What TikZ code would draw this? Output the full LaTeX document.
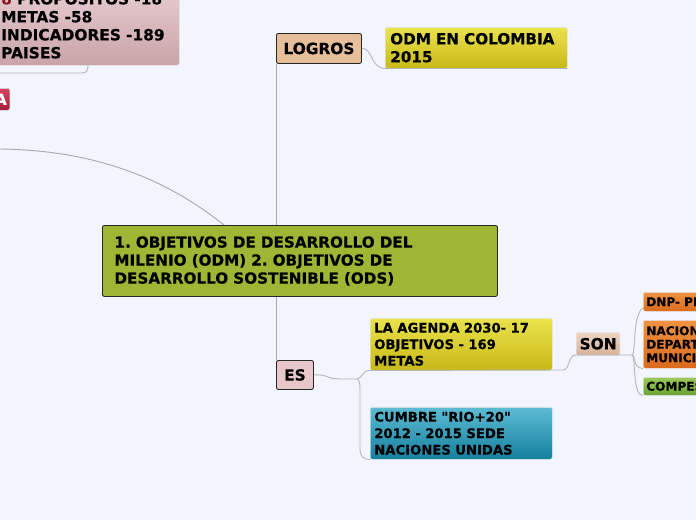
\documentclass[tikz,border=0pt]{standalone}
\usepackage{fontspec}
\setmainfont{DejaVu Sans}[Ligatures=TeXOff, BoldFeatures={FakeBold=0.4}]
\frenchspacing
\definecolor{bgc}{HTML}{F2F5FD}
\definecolor{lnc}{HTML}{B4B6BE}
\definecolor{lnd}{HTML}{A8A8AC}
\definecolor{mainc}{HTML}{9DB634}
\definecolor{logc}{HTML}{E6BE9A}
\definecolor{esc}{HTML}{E8C7CB}
\definecolor{sont}{HTML}{EDD5C2}
\definecolor{sonb}{HTML}{D6B298}
\definecolor{yelt}{HTML}{EAE24C}
\definecolor{yelb}{HTML}{C8B918}
\definecolor{teat}{HTML}{5CBBD3}
\definecolor{teab}{HTML}{15809F}
\definecolor{orat}{HTML}{F29242}
\definecolor{orab}{HTML}{DA6A1C}
\definecolor{gret}{HTML}{9ACA5A}
\definecolor{greb}{HTML}{6AA232}
\definecolor{redt}{HTML}{D4445F}
\definecolor{redb}{HTML}{A61E3A}
\definecolor{pint}{HTML}{E8CDD1}
\definecolor{pinb}{HTML}{C9A3A8}
\definecolor{darkred}{HTML}{8A1C2A}
\tikzset{
  box/.style={anchor=north west, inner ysep=0pt, align=left, rounded corners=2pt},
  solidbox/.style={box, draw=black!85, line width=0.9pt},
  gbox/.style={box, draw=white!80!gray, line width=0.5pt},
  conn/.style={draw=lnc, line width=0.9pt},
  f14/.style={font={\fontsize{15.4}{18}\selectfont\bfseries\frenchspacing}},
  f13/.style={font={\fontsize{15.2}{18}\selectfont\bfseries\frenchspacing}},
  f11/.style={font={\fontsize{13.2}{16.5}\selectfont\bfseries\frenchspacing}},
  f10/.style={font={\fontsize{12.1}{13.5}\selectfont\bfseries\frenchspacing}},
}
\begin{document}
\begin{tikzpicture}[x=1pt,y=-1pt]
\useasboundingbox (0,0) rectangle (696,520);
\clip (0,0) rectangle (696,520);
\fill[bgc] (0,0) rectangle (696,520);

% nodes
\node[gbox, f14, top color=pint, bottom color=pinb, text width=167pt, inner xsep=11pt, minimum height=79pt] (tl) at (-10,-14)
  {{\color{darkred}8} PROPOSITOS -18\\METAS -58\\INDICADORES -189\\PAISES};
\node[gbox, f14, top color=redt, bottom color=redb, text=white, inner xsep=3pt, minimum height=22pt, anchor=north east] (red) at (10,88) {A};

\node[solidbox, f13, fill=mainc, text width=371pt, inner xsep=12pt, minimum height=71pt] (main) at (102,225)
  {1. OBJETIVOS DE DESARROLLO DEL\\MILENIO (ODM) 2. OBJETIVOS DE\\DESARROLLO SOSTENIBLE (ODS)};
\node[solidbox, f14, fill=logc, minimum width=85pt, minimum height=30pt, align=center] (logros) at (276,33) {LOGROS};
\node[gbox, f13, top color=yelt, bottom color=yelb, text width=172pt, inner xsep=5pt, minimum height=41pt] (odm) at (385,27)
  {ODM EN COLOMBIA\\2015};
\node[solidbox, f14, fill=esc, minimum width=37pt, minimum height=29pt, align=center] (es) at (276,360) {ES};
\node[gbox, f11, top color=yelt, bottom color=yelb, text width=174pt, inner xsep=4pt, minimum height=52pt] (agenda) at (370,318)
  {LA AGENDA 2030- 17\\OBJETIVOS - 169\\METAS};
\node[gbox, f11, top color=teat, bottom color=teab, text width=174pt, inner xsep=4pt, minimum height=52pt] (cumbre) at (370,407)
  {CUMBRE "RIO+20"\\2012 - 2015 SEDE\\NACIONES UNIDAS};
\node[gbox, f14, top color=sont, bottom color=sonb, minimum width=43pt, minimum height=23pt, align=center] (son) at (576,332) {SON};
\node[gbox, f10, top color=orat, bottom color=orab, text width=100pt, inner xsep=3pt, minimum height=19pt] (dnp) at (643,292) {DNP- PND};
\node[gbox, f10, top color=orat, bottom color=orab, text width=100pt, inner xsep=3pt, minimum height=48pt] (nac) at (643,320)
  {NACIONAL\\DEPARTAMENTAL\\MUNICIPAL};
\node[gbox, f10, top color=gret, bottom color=greb, text width=100pt, inner xsep=3pt, minimum height=18pt] (compes) at (643,377) {COMPES 91};

% connectors
\coordinate (tlL) at (-5,73);
\coordinate (tlc) at (88,65);
\coordinate (lc) at (-5,149);
\coordinate (esj) at (357,379);
\coordinate (sonj) at (632,355);
\draw[conn] (tlL) -- (82,73) .. controls (87,73) and (88,70) .. (tlc);
\draw[draw=lnd, line width=0.9pt] (lc) .. controls (110,149) and (180,190) .. ([xshift=122pt]main.north west);
\draw[draw=lnd, line width=0.9pt] ([xshift=0.5pt]logros.south west) -- ([xshift=0.5pt]logros.south west |- main.north);
\draw[draw=lnd, line width=0.9pt] ([xshift=0.5pt]es.north west |- main.south) -- ([xshift=0.5pt]es.north west);
\draw[conn] (logros.east) .. controls (373,48) and (370,68) .. (odm.south west) -- (odm.south east);
\draw[conn] (es.east) .. controls (328,374) and (326,379) .. (340,379) -- (esj);
\draw[conn] (esj) .. controls (362,379) and (362,370) .. (agenda.south west);
\draw[conn] (esj) .. controls (360,379) and (360,385) .. (360,395) -- (360,448) .. controls (360,457) and (363,459) .. (cumbre.south west);
\draw[conn] (agenda.south west) -- (563,370) .. controls (570,370) and (568,355) .. (576,355) -- (sonj);
\draw[conn] (sonj) .. controls (636,355) and (632,316) .. ([yshift=4pt]dnp.south west);
\draw[conn] (sonj) .. controls (636,355) and (632,368) .. (nac.south west);
\draw[conn] (sonj) .. controls (636,355) and (632,396) .. (compes.south west);
\end{tikzpicture}
\end{document}
